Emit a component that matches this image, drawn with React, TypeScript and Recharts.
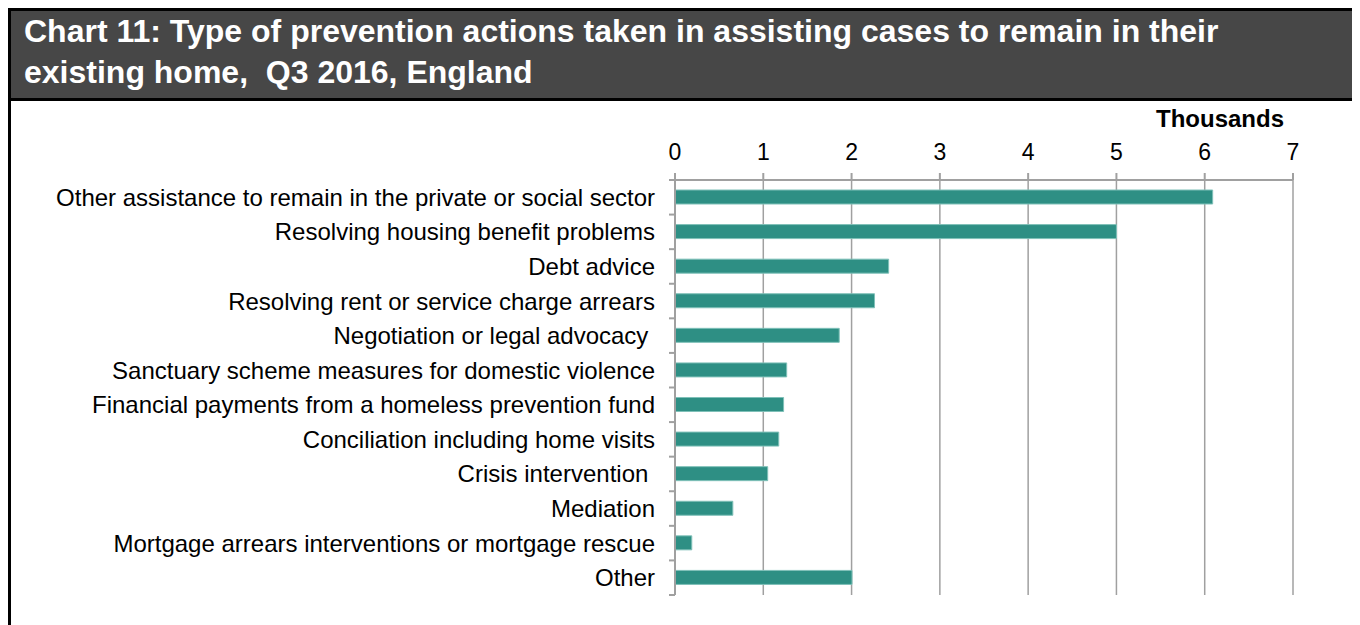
import { BarChart, Bar, XAxis, YAxis, CartesianGrid } from 'recharts';

const categories = [
  'Other assistance to remain in the private or social sector',
  'Resolving housing benefit problems',
  'Debt advice',
  'Resolving rent or service charge arrears',
  'Negotiation or legal advocacy\u00a0',
  'Sanctuary scheme measures for domestic violence',
  'Financial payments from a homeless prevention fund',
  'Conciliation including home visits',
  'Crisis intervention\u00a0',
  'Mediation',
  'Mortgage arrears interventions or mortgage rescue',
  'Other',
];

// thousands of cases
const cases = [6.09, 5.0, 2.42, 2.26, 1.86, 1.265, 1.23, 1.175, 1.05, 0.655, 0.19, 2.005];

const xTicks = [0, 1, 2, 3, 4, 5, 6, 7];

const chartData = categories.map((name, i) => ({ name, value: cases[i] }));

const FONT = '"Liberation Sans", Arial, sans-serif';
const AXIS_GREY = '#a0a0a0';
const LABEL_GAP = 20;

// category label plus a small tick at each band edge (Excel style)
const CategoryTick = (props: any) => {
  const { x, y, payload, index } = props;
  const half = payload?.offset ?? 0;
  const axisX = x + LABEL_GAP;
  return (
    <g>
      <line x1={axisX - 6} x2={axisX} y1={y - half} y2={y - half} stroke={AXIS_GREY} strokeWidth={2} />
      {index === categories.length - 1 && (
        <line x1={axisX - 6} x2={axisX} y1={y + half} y2={y + half} stroke={AXIS_GREY} strokeWidth={2} />
      )}
      <text x={x} y={y} dy="0.355em" textAnchor="end" fill="#000" fontSize={24} fontFamily={FONT}>
        {payload.value}
      </text>
    </g>
  );
};

const App = () => {
  return (
    <div
      style={{
        width: 1352,
        borderTop: '3px solid #000',
        borderLeft: '3px solid #000',
        fontFamily: FONT,
        background: '#fff',
      }}
    >
      <div
        style={{
          height: 90,
          background: '#474747',
          borderBottom: '3px solid #000',
          color: '#fff',
          fontWeight: 'bold',
          fontSize: 32,
          lineHeight: '41px',
          padding: '0 0 0 13px',
          boxSizing: 'border-box',
          whiteSpace: 'nowrap',
        }}
      >
        Chart 11: Type of prevention actions taken in assisting cases to remain in their
        <br />
        existing home,&nbsp; Q3 2016, England
      </div>
      <div style={{ position: 'relative', height: 524 }}>
        <div
          style={{
            position: 'absolute',
            right: 79,
            top: 4,
            fontWeight: 'bold',
            fontSize: 24,
            color: '#000',
          }}
        >
          Thousands
        </div>
        <BarChart
          width={1349}
          height={524}
          data={chartData}
          layout="vertical"
          margin={{ top: 39, right: 67, bottom: 30, left: 0 }}
        >
          <CartesianGrid horizontal={false} stroke={AXIS_GREY} strokeWidth={1.5} />
          <XAxis
            type="number"
            orientation="top"
            domain={[0, 7]}
            ticks={xTicks}
            height={40}
            tickSize={7}
            tickMargin={13}
            axisLine={{ stroke: AXIS_GREY, strokeWidth: 2 }}
            tickLine={{ stroke: AXIS_GREY, strokeWidth: 2 }}
            tick={{ fill: '#000', fontSize: 23, fontFamily: FONT }}
          />
          <YAxis
            type="category"
            dataKey="name"
            width={664}
            tickSize={LABEL_GAP}
            tickMargin={0}
            tickLine={false}
            axisLine={{ stroke: AXIS_GREY, strokeWidth: 2 }}
            tick={<CategoryTick />}
            interval={0}
          />
          <Bar
            dataKey="value"
            fill="#2e8f84"
            stroke="#7fc0b8"
            strokeWidth={1}
            barSize={14}
            isAnimationActive={false}
          />
        </BarChart>
      </div>
    </div>
  );
};

export default App;
